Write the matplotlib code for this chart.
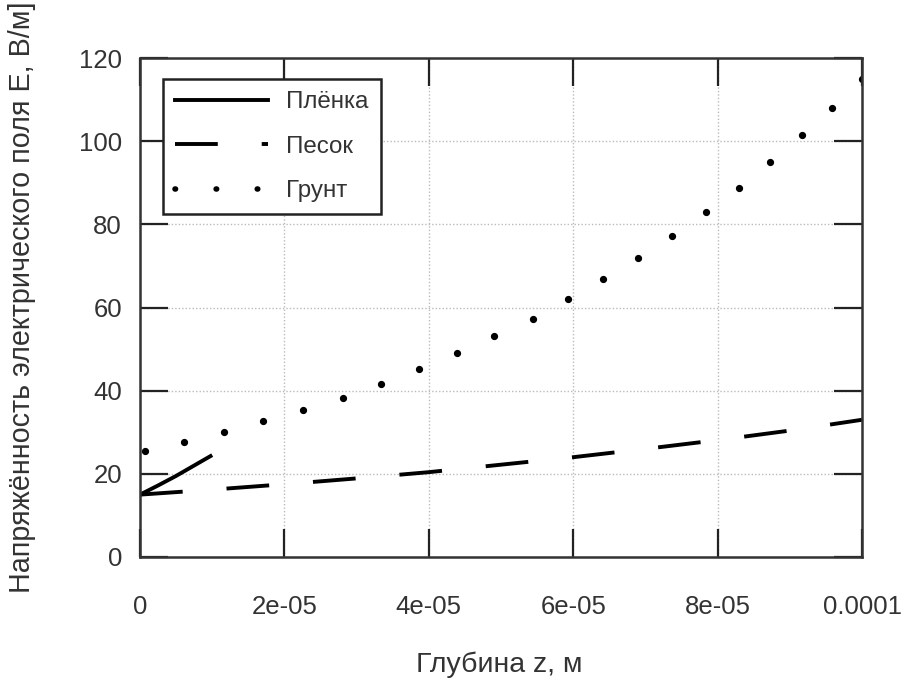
import matplotlib
matplotlib.use("Agg")
import matplotlib.pyplot as plt
from matplotlib.lines import Line2D
import numpy as np

plt.rcParams['font.family'] = ['Liberation Sans', 'DejaVu Sans']

# Data
film_z = [0.0, 0.25e-5, 0.5e-5, 0.75e-5, 1.0e-5]
film_E = [15.0, 17.2, 19.5, 22.0, 24.5]

sand_z = [0, 1e-5, 2e-5, 3e-5, 4e-5, 5e-5, 6e-5, 7e-5, 8e-5, 9e-5, 1e-4]
sand_E = [15.0, 16.2, 17.5, 18.9, 20.4, 22.2, 24.0, 26.0, 28.1, 30.4, 33.0]

soil_z = [0.7e-6, 6.1e-6, 11.6e-6, 17.0e-6, 22.6e-6, 28.1e-6, 33.4e-6, 38.6e-6,
          43.9e-6, 49.0e-6, 54.4e-6, 59.3e-6, 64.1e-6, 69.0e-6, 73.7e-6,
          78.4e-6, 83.0e-6, 87.3e-6, 91.7e-6, 95.8e-6, 100e-6]
soil_E = [25.5, 27.7, 30.1, 32.7, 35.4, 38.2, 41.6, 45.2, 49.1, 53.2, 57.2,
          62.0, 66.9, 71.9, 77.2, 83.0, 88.7, 95.0, 101.5, 108.0, 115.0]

x_ticks = [0, 2e-5, 4e-5, 6e-5, 8e-5, 1e-4]
x_labels = ['0', '2e-05', '4e-05', '6e-05', '8e-05', '0.0001']
y_ticks = [0, 20, 40, 60, 80, 100, 120]

labels = ['Плёнка', 'Песок', 'Грунт']

W, H = 905, 681
fig = plt.figure(figsize=(W / 100, H / 100), dpi=100)
ax = fig.add_axes([140 / W, 1 - 557 / H, (862 - 140) / W, (557 - 58) / H])

ax.plot(film_z, film_E, color='black', lw=2.8, solid_capstyle='butt')
ax.plot(sand_z, sand_E, color='black', lw=2.8, dashes=(11, 11.3), dash_capstyle='butt')
ax.plot(soil_z, soil_E, linestyle='none', marker='o', ms=4.2, color='black')

ax.set_xlim(0, 1e-4)
ax.set_ylim(0, 120)
ax.set_xticks(x_ticks)
ax.set_xticklabels(x_labels)
ax.set_yticks(y_ticks)
ax.tick_params(direction='in', length=20, width=1.6, color='#222222',
               top=True, right=True, labelsize=18.5, labelcolor='#333333')
ax.tick_params(axis='y', pad=13)
ax.tick_params(axis='x', pad=27)
for s in ax.spines.values():
    s.set_linewidth(1.8)
    s.set_color('#333333')
ax.grid(True, color='#bbbbbb', linestyle=(0, (1, 1.5)), linewidth=1.0)

fig.text(499 / W, 1 - 665 / H, 'Глубина z, м', ha='center', va='center',
         fontsize=20.5, color='#333333')
fig.text(22 / W, 1 - 593 / H, 'Напряжённость электрического поля E, В/м]',
         rotation=90, ha='center', va='bottom', fontsize=20.7, color='#333333')

handles = [
    Line2D([], [], color='black', lw=2.8),
    Line2D([], [], color='black', lw=2.8, dashes=(11, 11.3)),
    Line2D([], [], color='black', lw=4, linestyle=(0, (0.1, 7.3)), dash_capstyle='round'),
]
leg = ax.legend(handles, labels, loc='upper left', bbox_to_anchor=(23 / 722, 1 - 21 / 499),
                fontsize=17.4, frameon=True, fancybox=False, handlelength=3.85,
                handletextpad=0.75, labelspacing=0.93, borderpad=0.5,
                borderaxespad=0)
leg.get_frame().set_edgecolor('#222222')
leg.get_frame().set_linewidth(1.8)
leg.get_frame().set_alpha(1)
for t in leg.get_texts():
    t.set_color('#333333')

fig.savefig('out.png', dpi=100)
